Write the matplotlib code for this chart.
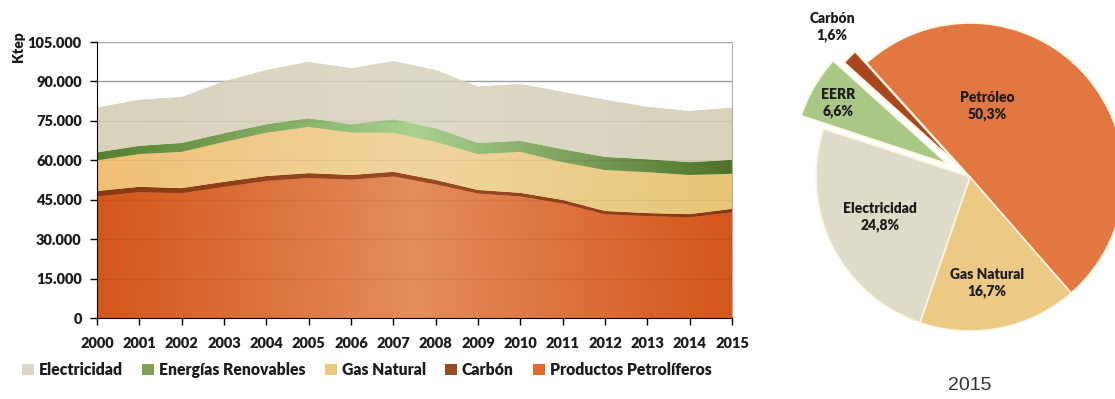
import matplotlib
matplotlib.use('Agg')
import matplotlib.pyplot as plt
import numpy as np
from matplotlib.colors import LinearSegmentedColormap
from matplotlib.patches import Patch

plt.rcParams['font.family'] = ['Lato', 'DejaVu Sans']

# consumo de energía final por fuente (ktep)
years = np.arange(2000, 2016)
petroleo = [46300, 47900, 47500, 49900, 52200, 53300, 52700, 53900,
            50900, 47400, 46300, 43600, 39500, 38800, 38300, 40240]
carbon = [2000, 2000, 1900, 1900, 1800, 1800, 1700, 1700,
          1600, 1300, 1300, 1300, 1200, 1100, 1200, 1280]
gas_natural = [11700, 12500, 13800, 15200, 16500, 17600, 16200, 14900,
               14500, 13700, 15600, 14400, 15600, 15600, 14900, 13360]
renovables = [3000, 3100, 3400, 3300, 3200, 3300, 3100, 5100,
              5200, 4200, 4200, 4900, 5000, 4900, 4900, 5280]
electricidad = [17000, 17500, 17400, 19700, 20600, 21400, 21300, 22100,
                22100, 21400, 21600, 21800, 21700, 19900, 19400, 19840]

series_names = ['Productos Petrolíferos', 'Carbón', 'Gas Natural',
                'Energías Renovables', 'Electricidad']

# reparto 2015 (%)
pie_labels = ['Gas Natural', 'Petróleo', 'Carbón', 'EERR', 'Electricidad']
pie_values = [16.7, 50.3, 1.6, 6.6, 24.8]

# colores: borde, centro, borde (degradado horizontal)
grad_colors = [
    ['#d4561a', '#e48d5d', '#d4561a'],
    ['#8a3812', '#9a4a22', '#8a3812'],
    ['#f0c076', '#f1d59f', '#e6c676'],
    ['#557f2e', '#a9d18f', '#4e7229'],
    ['#d9d3bd', '#dedac8', '#d9d3bd'],
]
legend_colors = ['#e06a2c', '#9a4a22', '#ecc97e', '#7fa055', '#dcd7c4']
pie_colors = ['#ecca86', '#e27742', '#a8461e', '#a9c785', '#dedbc8']

txt = '#1c1c1c'

fig = plt.figure(figsize=(11.15, 3.99), dpi=100)

# ---- áreas apiladas ----
ax = fig.add_axes([0.087, 0.203, 0.5695, 0.6917])
ax.set_axisbelow(True)
ax.yaxis.grid(True, color='#a8a8a8', lw=1)

polys = ax.stackplot(years, petroleo, carbon, gas_natural, renovables,
                     electricidad, colors=[c[1] for c in grad_colors], lw=0)

grad = np.linspace(0, 1, 256).reshape(1, -1)
for poly, cols in zip(polys, grad_colors):
    cmap = LinearSegmentedColormap.from_list('g', cols)
    im = ax.imshow(grad, cmap=cmap, aspect='auto',
                   extent=[2000, 2015, 0, 105000], zorder=1.5)
    im.set_clip_path(poly.get_paths()[0], ax.transData)

# líneas de rejilla tenues sobre las áreas
for v in range(15000, 105000, 15000):
    ax.axhline(v, color='black', alpha=0.06, lw=1, zorder=3)

ax.set_xlim(2000, 2015)
ax.set_ylim(0, 105000)
ax.set_xticks(years)
ax.set_xticklabels([str(y) for y in years])
yt = list(range(0, 105001, 15000))
ax.set_yticks(yt)
ax.set_yticklabels([f'{v:,}'.replace(',', '.') for v in yt])
ax.tick_params(direction='out', length=5, width=1, color='black',
               labelsize=10.5, labelcolor=txt, pad=6)
for lab in ax.get_xticklabels() + ax.get_yticklabels():
    lab.set_fontweight('heavy')
ax.tick_params(axis='x', pad=9)

ax.spines['top'].set_visible(False)
ax.spines['right'].set_color('#b0b0b0')
ax.spines['left'].set_color('black')
ax.spines['bottom'].set_color('black')

fig.text(0.017, 1 - 47 / 399, 'Ktep', rotation=90, ha='center', va='center',
         fontsize=10, fontweight='heavy', color=txt)

# leyenda en orden inverso de apilado
handles = [Patch(facecolor=c, edgecolor='none') for c in legend_colors]
order = [4, 3, 2, 1, 0]
fig.legend([handles[i] for i in order], [series_names[i] for i in order],
           loc='center', bbox_to_anchor=(0.329, 0.073), ncol=5, frameon=False,
           prop={'weight': 'heavy', 'size': 11.3}, labelcolor=txt,
           handlelength=0.75, handleheight=0.75, handletextpad=0.3,
           columnspacing=1.25)

# ---- tarta 2015 (unidades en píxeles, centro en 970,177) ----
pax = fig.add_axes([760 / 1115, 0, 355 / 1115, 1])
explode = [0, 0, 16, 26, 0]
wedges, _ = pax.pie(pie_values, colors=pie_colors, startangle=-109,
                    counterclock=True, radius=154, explode=explode,
                    wedgeprops={'edgecolor': '#fbf6df', 'linewidth': 1.2})
pax.set_xlim(-210, 145)
pax.set_ylim(-222, 177)
pax.set_aspect('equal')
pax.axis('off')

label_pos = {
    'Gas Natural': (17, -106),
    'Petróleo': (17, 71),
    'Carbón': (-138, 150),
    'EERR': (-132, 74),
    'Electricidad': (-90, -40),
}
for name, val in zip(pie_labels, pie_values):
    x, y = label_pos[name]
    pax.text(x, y, f'{name}\n{val:.1f}%'.replace('.', ','), ha='center',
             va='center', fontsize=10, fontweight='heavy', color=txt,
             linespacing=1.3)

fig.text(970 / 1115, 1 - 385 / 399, '2015', ha='center', va='center',
         fontsize=14, color='#333333', family='Liberation Sans')

fig.savefig('out.png', dpi=100)
